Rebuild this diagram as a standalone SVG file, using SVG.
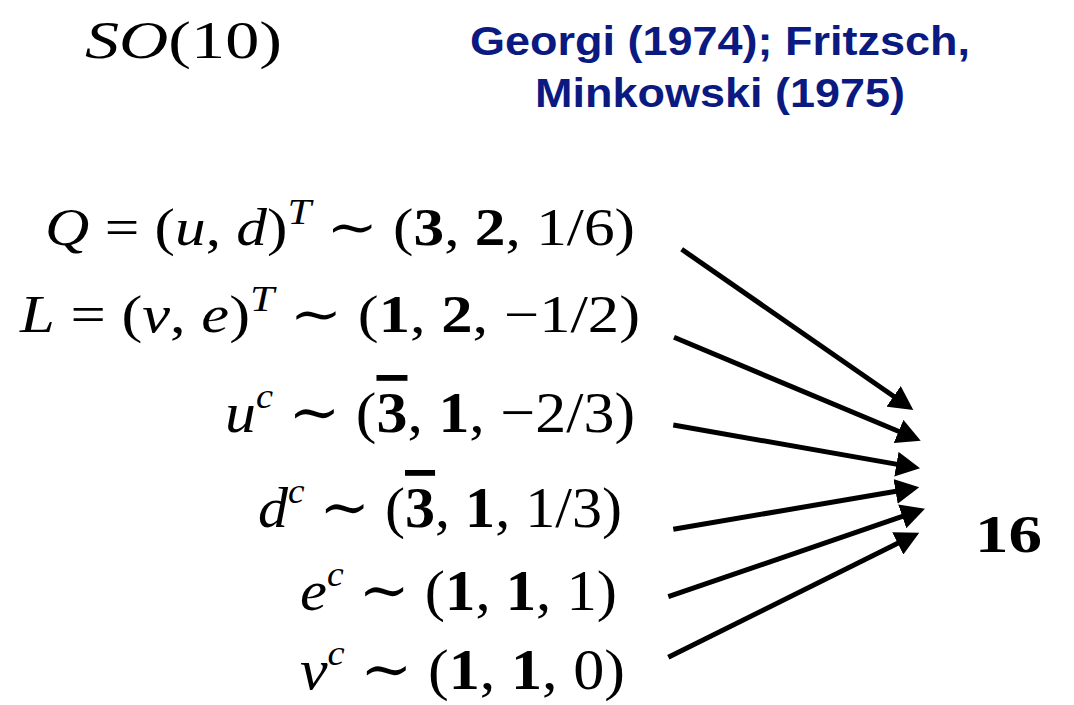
<svg xmlns="http://www.w3.org/2000/svg" width="1074" height="705" viewBox="0 0 1074 705">
<defs>
<marker id="ah" markerUnits="userSpaceOnUse" markerWidth="24" markerHeight="25" refX="14" refY="12.5" orient="auto" viewBox="0 0 24 25">
<path d="M0,0 L24,12.5 L0,25 z" fill="#000"/>
</marker>
<style>
.m{font-family:"Liberation Serif","DejaVu Serif",serif;font-size:52px;fill:#000}
.big{font-size:58px}
.i{font-style:italic}
.b{font-weight:bold}
.s{font-size:36px}
.cite{font-family:"Liberation Sans",Arial,sans-serif;font-weight:bold;font-size:41px;fill:#0b1a80}
.arr{stroke:#000;stroke-width:5;fill:none;marker-end:url(#ah)}
</style>
</defs>
<rect width="1074" height="705" fill="#fff"/>
<g id="title">
<text class="m" x="85" y="58" font-size="64" textLength="197" lengthAdjust="spacingAndGlyphs"><tspan class="i">SO</tspan>(10)</text>
</g>
<g id="citation">
<text class="cite" x="720" y="55" text-anchor="middle" textLength="500" lengthAdjust="spacingAndGlyphs">Georgi (1974); Fritzsch,</text>
<text class="cite" x="720" y="107" text-anchor="middle" textLength="370" lengthAdjust="spacingAndGlyphs">Minkowski (1975)</text>
</g>
<g id="Q">
<text class="m" x="45" y="245" textLength="590" lengthAdjust="spacingAndGlyphs"><tspan class="i">Q</tspan> = (<tspan class="i">u</tspan>, <tspan class="i">d</tspan>)<tspan class="i s" dy="-21">T</tspan><tspan dy="21"> ∼ (</tspan><tspan class="b">3</tspan>, <tspan class="b">2</tspan>, 1/6)</text>
</g>
<g id="L">
<text class="m" x="20" y="332" textLength="620" lengthAdjust="spacingAndGlyphs"><tspan class="i">L</tspan> = (<tspan class="i">ν</tspan>, <tspan class="i">e</tspan>)<tspan class="i s" dy="-21">T</tspan><tspan dy="21"> ∼ (</tspan><tspan class="b">1</tspan>, <tspan class="b">2</tspan>, −1/2)</text>
</g>
<g id="uc">
<text class="m big" x="225" y="432" textLength="410" lengthAdjust="spacingAndGlyphs"><tspan class="i">u</tspan><tspan class="i s" dy="-24">c</tspan><tspan dy="24"> ∼ (</tspan><tspan class="b" text-decoration="overline">3</tspan>, <tspan class="b">1</tspan>, −2/3)</text>
</g>
<g id="dc">
<text class="m big" x="258" y="527" textLength="364" lengthAdjust="spacingAndGlyphs"><tspan class="i">d</tspan><tspan class="i s" dy="-24">c</tspan><tspan dy="24"> ∼ (</tspan><tspan class="b" text-decoration="overline">3</tspan>, <tspan class="b">1</tspan>, 1/3)</text>
</g>
<g id="ec">
<text class="m big" x="300" y="610" textLength="317" lengthAdjust="spacingAndGlyphs"><tspan class="i">e</tspan><tspan class="i s" dy="-24">c</tspan><tspan dy="24"> ∼ (</tspan><tspan class="b">1</tspan>, <tspan class="b">1</tspan>, 1)</text>
</g>
<g id="nuc">
<text class="m big" x="300" y="689" textLength="325" lengthAdjust="spacingAndGlyphs"><tspan class="i">ν</tspan><tspan class="i s" dy="-24">c</tspan><tspan dy="24"> ∼ (</tspan><tspan class="b">1</tspan>, <tspan class="b">1</tspan>, 0)</text>
</g>
<g id="sixteen">
<text class="m b" x="975" y="552" font-size="60" textLength="67" lengthAdjust="spacingAndGlyphs">16</text>
</g>
<g id="connectors">
<line class="arr" x1="681.7" y1="249.3" x2="905.1" y2="404.3"/>
<line class="arr" x1="674" y1="337.3" x2="911.5" y2="436.8"/>
<line class="arr" x1="673.3" y1="425" x2="910.2" y2="466.6"/>
<line class="arr" x1="673.3" y1="529.3" x2="909.4" y2="489.0"/>
<line class="arr" x1="668.3" y1="596.7" x2="915.5" y2="511.9"/>
<line class="arr" x1="668.3" y1="657.3" x2="910.3" y2="537.1"/>
</g>
</svg>
